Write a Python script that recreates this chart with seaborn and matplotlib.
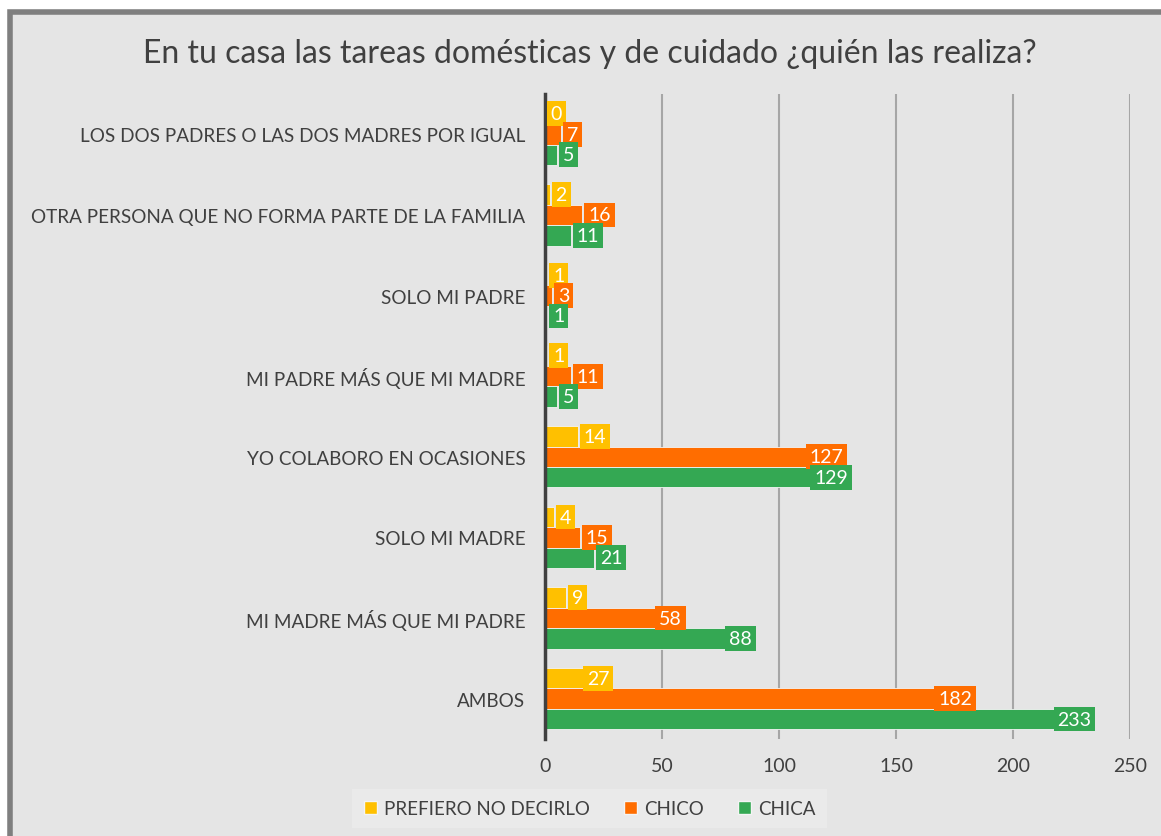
import pandas as pd
import seaborn as sns
import matplotlib.pyplot as plt
from matplotlib.patches import Rectangle

# Data (top to bottom)
categories = [
    "LOS DOS PADRES O LAS DOS MADRES POR IGUAL",
    "OTRA PERSONA QUE NO FORMA PARTE DE LA FAMILIA",
    "SOLO MI PADRE",
    "MI PADRE MÁS QUE MI MADRE",
    "YO COLABORO EN OCASIONES",
    "SOLO MI MADRE",
    "MI MADRE MÁS QUE MI PADRE",
    "AMBOS",
]
prefiero = [0, 2, 1, 1, 14, 4, 9, 27]
chico = [7, 16, 3, 11, 127, 15, 58, 182]
chica = [5, 11, 1, 5, 129, 21, 88, 233]
series = ["PREFIERO NO DECIRLO", "CHICO", "CHICA"]
colors = ["#FFC000", "#FF6D00", "#34A853"]
ticks = [0, 50, 100, 150, 200, 250]

df = pd.DataFrame({
    "categoria": categories * 3,
    "valor": prefiero + chico + chica,
    "serie": [s for s in series for _ in categories],
})

sns.set_theme(style="white")
plt.rcParams["font.family"] = ["Lato", "DejaVu Sans"]
txt = "#404040"

fig = plt.figure(figsize=(11.61, 8.37), dpi=100)
fig.patch.set_facecolor("white")

# Framed gray panel
frame = Rectangle((0.009, -0.01), 1.0, 0.994, transform=fig.transFigure,
                  facecolor="#e5e5e5", edgecolor="#7f7f7f", linewidth=4, zorder=-1)
fig.patches.append(frame)

ax = fig.add_axes([0.4694, 0.1159, 0.5039, 0.7706])
ax.set_facecolor("none")

sns.barplot(data=df, y="categoria", x="valor", hue="serie", order=categories,
            hue_order=series, palette=colors, orient="h", width=0.76,
            saturation=1, ax=ax, edgecolor="#f4f4f4", linewidth=0.6)

ax.set_xlim(0, 250)
ax.set_xticks(ticks)
ax.set_xlabel("")
ax.set_ylabel("")
ax.grid(axis="x", color="#a6a6a6", linewidth=1.5)
ax.set_axisbelow(True)
for s in ["top", "right", "bottom"]:
    ax.spines[s].set_visible(False)
ax.spines["left"].set_color("#404040")
ax.spines["left"].set_linewidth(2.5)
ax.tick_params(axis="both", length=0, labelcolor=txt)
ax.tick_params(axis="y", pad=14, labelsize=13.6)
ax.tick_params(axis="x", pad=13, labelsize=14)

# Value labels in coloured boxes
values = [prefiero, chico, chica]
for cont, vals, col in zip(ax.containers, values, colors):
    for bar, v in zip(cont.patches, vals):
        y = bar.get_y() + bar.get_height() / 2
        if v >= 25:
            x, ha = v + 0.5, "right"
        else:
            x, ha = v + 2.5, "left"
        ax.text(x, y, str(v), ha=ha, va="center", color="white", fontsize=14,
                bbox=dict(boxstyle="square,pad=0.2", facecolor=col,
                          edgecolor="none"), zorder=5)

ax.get_legend().remove()
handles = [Rectangle((0, 0), 1, 1, facecolor=c, edgecolor="#f4f4f4") for c in colors]
leg = fig.legend(handles, series, loc="center", bbox_to_anchor=(0.508, 0.033),
                 ncol=3, frameon=True, fancybox=False, fontsize=13.5,
                 handlelength=0.7, handleheight=0.7, handletextpad=0.4,
                 columnspacing=1.8, borderpad=0.6)
leg.get_frame().set_facecolor("#ececec")
leg.get_frame().set_edgecolor("none")
for t in leg.get_texts():
    t.set_color(txt)

fig.text(0.508, 0.935, "En tu casa las tareas domésticas y de cuidado ¿quién las realiza?",
         ha="center", va="center", fontsize=23, color=txt)

fig.savefig("out.png", dpi=100)
